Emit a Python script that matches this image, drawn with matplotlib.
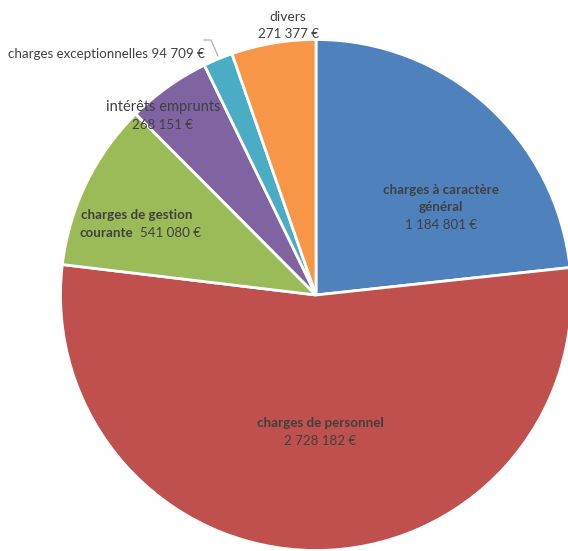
import matplotlib.pyplot as plt

categories = [
    "charges à caractère général",
    "charges de personnel",
    "charges de gestion courante",
    "intérêts emprunts",
    "charges exceptionnelles",
    "divers",
]
values = [1184801, 2728182, 541080, 268151, 94709, 271377]
value_labels = ["1 184 801 €", "2 728 182 €", "541 080 €", "268 151 €", "94 709 €", "271 377 €"]
colors = ["#4F81BD", "#C0504D", "#9BBB59", "#8064A2", "#4BACC6", "#F79646"]

W, H = 568, 551
TXT = "#404040"
plt.rcParams["font.family"] = ["Lato", "DejaVu Sans"]

fig = plt.figure(figsize=(W / 100, H / 100), dpi=100)
ax = fig.add_axes([0, 0, 1, 1])

ax.pie(values, colors=colors, startangle=90, counterclock=False,
       center=(316, H - 295), radius=255.5,
       wedgeprops=dict(edgecolor="white", linewidth=2))

# pie() resets the limits, so set them afterwards
ax.set_xlim(0, W)
ax.set_ylim(0, H)
ax.set_aspect("equal")
ax.axis("off")


def put(x, y, s, bold=False, ha="center", size=9.6, **kw):
    # x, y in image pixels (y from top)
    ax.text(x, H - y, s, ha=ha, va="center", fontsize=size, color=TXT,
            fontweight="bold" if bold else "normal", **kw)


put(441, 190, "charges à caractère", bold=True)
put(441, 207, "général", bold=True)
put(441, 225, value_labels[0])

put(320, 423, "charges de personnel", bold=True)
put(320, 441, value_labels[1])

put(137, 215, "charges de gestion", bold=True)
put(79, 233, "courante", bold=True, ha="left")
put(140, 233, value_labels[2], ha="left")

put(163, 107, "intérêts emprunts", size=10.5)
put(163, 125, value_labels[3])

put(8, 54, "charges exceptionnelles " + value_labels[4], ha="left")
ax.plot([204, 211, 218], [H - 40, H - 40, H - 56], color="#A6A6A6", lw=0.8)

put(288, 17, categories[5], size=10)
put(288, 34, value_labels[5])

fig.savefig("out.png", dpi=100)
